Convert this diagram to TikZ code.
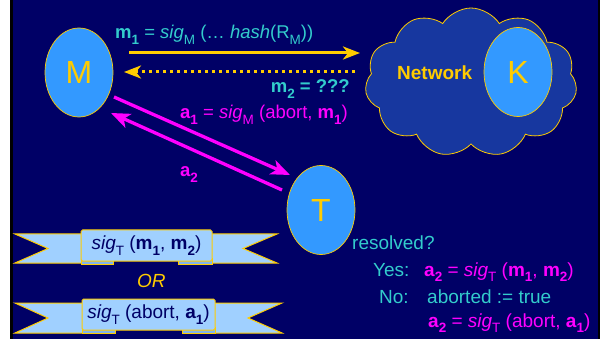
\documentclass[tikz,border=0pt]{standalone}
\usepackage{fontspec}
\setmainfont{Liberation Sans}
\usetikzlibrary{shapes.geometric,shapes.symbols,arrows.meta}

\definecolor{bgnavy}{RGB}{0,0,102}
\definecolor{gold}{RGB}{255,204,0}
\definecolor{skyfill}{RGB}{51,153,255}
\definecolor{labelcyan}{RGB}{51,204,204}
\definecolor{mag}{RGB}{255,0,255}
\definecolor{netblue}{RGB}{23,55,159}
\definecolor{ribbonfill}{RGB}{160,208,255}
\definecolor{ribbonfold}{RGB}{130,180,235}
\definecolor{inknavy}{RGB}{0,0,102}

\newcommand\fsz[1]{\fontsize{#1}{#1}\selectfont}
\newcommand\lsub[1]{\raisebox{-0.3em}{\fsz{13.5}#1}}

\tikzset{
  party/.style={ellipse, draw=gold, line width=0.7pt, fill=skyfill,
    text=gold, font=\fsz{32}, inner sep=0pt,
    minimum width=68pt, minimum height=89pt},
  goldline/.style={draw=gold, line width=3pt},
  goldtip/.style={-{Stealth[length=17pt,width=13pt,inset=5pt]}},
  magline/.style={draw=mag, line width=3.3pt,
    -{Stealth[length=19pt,width=15pt,inset=5pt]}},
  lbl/.style={inner sep=0pt, font=\fsz{18.5}},
  wing/.style={fill=ribbonfill, draw=gold, line width=1pt, line join=miter},
  fold/.style={fill=ribbonfold, draw=gold, line width=0.8pt},
  ribbonbox/.style={fill=ribbonfill, draw=gold, line width=1pt,
    rounded corners=1.5pt, inner sep=0pt, text=inknavy, font=\fsz{19}},
}

\begin{document}
\begin{tikzpicture}[x=1pt,y=-1pt]
  % slide frame
  \fill[white] (0,0) rectangle (605,339);
  \fill[black] (10,0) rectangle (600,339);
  \fill[bgnavy] (13,0) rectangle (598,339);
  \useasboundingbox (0,0) rectangle (605,339);

  % the network cloud with K inside
  \node[cloud, cloud puffs=11, cloud puff arc=115, draw=gold, fill=netblue,
        line width=0.8pt, inner sep=0pt,
        minimum width=212pt, minimum height=149pt] (net) at (471,82.5) {};
  \node[lbl, anchor=base west, text=gold, font=\fsz{19}\bfseries]
        (netlab) at (397,80) {Network};
  \node[party] (K) at (518,72) {K};

  % the two parties and the trusted third party
  \node[party] (M) at (79,72.5) {M};
  \node[party] (T) at (321,210) {T};

  % messages between M and the network
  \coordinate (m1a) at (129,53);
  \coordinate (m1b) at (360,53);
  \draw[goldline, goldtip] (m1a) -- (m1b);
  \coordinate (m2a) at (355,72);
  \coordinate (m2b) at (124,72);
  \draw[goldline, goldtip, dash pattern=on 3pt off 4pt] (m2a) -- (m2b);

  % abort request and reply between M and T
  \coordinate (a1s) at (114,97);
  \coordinate (a1e) at (290,175);
  \draw[magline] (a1s) -- (a1e);
  \coordinate (a2s) at (282,190);
  \coordinate (a2e) at (111,113);
  \draw[magline] (a2s) -- (a2e);

  % message labels
  \node[lbl, anchor=base west, text=labelcyan] (m1lab) at (115,38.5)
    {\textbf{m\lsub{1}} = \textit{sig}\lsub{M} (\dots{} \textit{hash}(R\lsub{M}))};
  \node[lbl, anchor=base east, text=labelcyan, font=\fsz{18.5}\bfseries]
    (m2lab) at (350,93) {m\lsub{2} = ???};
  \node[lbl, anchor=base west, text=mag] (a1lab) at (180,119)
    {\textbf{a\lsub{1}} = \textit{sig}\lsub{M} (abort, \textbf{m\lsub{1}})};
  \node[lbl, anchor=base west, text=mag, font=\fsz{18.5}\bfseries]
    (a2lab) at (180,177) {a\lsub{2}};

  % T's decision
  \node[lbl, anchor=base west, text=labelcyan, font=\fsz{19}] (res) at (352,250) {resolved?};
  \node[lbl, anchor=base west, text=labelcyan, font=\fsz{19}] (yes) at (373,276) {Yes:};
  \node[lbl, anchor=base west, text=mag, font=\fsz{19}] (yesval) at (424,276)
    {\textbf{a\lsub{2}} = \textit{sig}\lsub{T} (\textbf{m\lsub{1}}, \textbf{m\lsub{2}})};
  \node[lbl, anchor=base west, text=labelcyan, font=\fsz{19}] (no) at (379,303) {No:};
  \node[lbl, anchor=base west, text=labelcyan, font=\fsz{19}] (noval) at (427,303)
    {aborted := true};
  \node[lbl, anchor=base west, text=mag, font=\fsz{19}] (noval2) at (428,327)
    {\textbf{a\lsub{2}} = \textit{sig}\lsub{T} (abort, \textbf{a\lsub{1}})};

  % first banner
  \path[wing] (15,234) -- (85,234) -- (85,263) -- (15,263) -- (48,248.5) -- cycle;
  \path[wing] (208,234) -- (277,234) -- (243,248.5) -- (277,263) -- (208,263) -- cycle;
  \path[fold] (81,258) rectangle (113,264);
  \path[fold] (178,258) rectangle (212,264);
  \node[ribbonbox, minimum width=131pt, minimum height=31pt] (r1) at (146.5,245.5)
    {\textit{sig}\lsub{T} (\textbf{m\lsub{1}}, \textbf{m\lsub{2}})};

  \node[lbl, anchor=base west, text=gold, font=\fsz{19}\itshape] (orlab) at (137,287) {OR};

  % second banner
  \path[wing] (15,303) -- (86,303) -- (86,333) -- (15,333) -- (48,318) -- cycle;
  \path[wing] (211,303) -- (282,303) -- (248,318) -- (282,333) -- (211,333) -- cycle;
  \path[fold] (82,327) rectangle (115,333);
  \path[fold] (182,327) rectangle (215,333);
  \node[ribbonbox, minimum width=133pt, minimum height=31pt] (r2) at (148.5,314.5)
    {\textit{sig}\lsub{T} (abort, \textbf{a\lsub{1}})};
\end{tikzpicture}
\end{document}
